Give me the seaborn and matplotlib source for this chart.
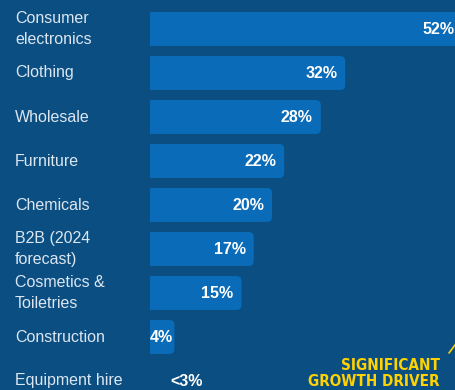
import matplotlib
matplotlib.use("Agg")
import matplotlib.pyplot as plt
import seaborn as sns
import pandas as pd
from matplotlib.patches import FancyBboxPatch
from matplotlib.lines import Line2D

categories = ["Consumer\nelectronics", "Clothing", "Wholesale", "Furniture", "Chemicals",
              "B2B (2024\nforecast)", "Cosmetics &\nToiletries", "Construction", "Equipment hire"]
values = [52, 32, 28, 22, 20, 17, 15, 4, 0]
value_labels = ["52%", "32%", "28%", "22%", "20%", "17%", "15%", "4%", "<3%"]
callout_lines = ["SIGNIFICANT", "GROWTH DRIVER"]

BG = "#0a4e82"
BAR = "#0a6cb8"
TXT = "#dce6f0"
YEL = "#ffd200"

sns.set_theme(style="white")
plt.rcParams["font.family"] = ["Liberation Sans", "DejaVu Sans"]

W, H = 456, 390
fig = plt.figure(figsize=(W / 100, H / 100), dpi=100, facecolor=BG)
left_px = 150
ax = fig.add_axes([left_px / W, 0, (W - left_px) / W, 1])
ax.set_facecolor(BG)

df = pd.DataFrame({"cat": categories, "val": values})
sns.barplot(data=df, x="val", y="cat", orient="h", color=BAR, width=0.77,
            saturation=1, ax=ax, order=categories)

px_per_unit = 6.1
xmax = (W - left_px) / px_per_unit
row_px = 44
top_center = 29
ax.set_xlim(0, xmax)
ax.set_ylim((H - top_center) / row_px, -top_center / row_px)

# replace rectangles with right-rounded bars
aspect = px_per_unit / row_px
for p in list(ax.patches):
    x0, y0 = p.get_x(), p.get_y()
    w, h = p.get_width(), p.get_height()
    p.remove()
    if w <= 0:
        continue
    r = 5 / px_per_unit
    fb = FancyBboxPatch((x0 - 2, y0), w + 2, h,
                        boxstyle=f"round,pad=0,rounding_size={r}",
                        mutation_aspect=aspect, facecolor=BAR, edgecolor="none",
                        clip_on=True)
    ax.add_patch(fb)

for s in ax.spines.values():
    s.set_visible(False)
ax.set_xticks([])
ax.set_yticks([])
ax.set_xlabel("")
ax.set_ylabel("")

# value labels
pad = 8 / px_per_unit
for i, (v, lab) in enumerate(zip(values, value_labels)):
    if v == 0:
        ax.text(20 / px_per_unit, i, lab, ha="left", va="center", color="white",
                fontsize=11.5, fontweight="bold")
    elif v * px_per_unit < 40:
        ax.text(0, i, lab, ha="left", va="center", color="white",
                fontsize=11.5, fontweight="bold")
    else:
        x = min(v - pad, xmax - 1 / px_per_unit)
        ax.text(x, i, lab, ha="right", va="center", color="white",
                fontsize=11.5, fontweight="bold", clip_on=False)

# category labels
for i, c in enumerate(categories):
    yc = 1 - (top_center + i * row_px) / H
    fig.text(15 / W, yc, c, ha="left", va="center", color=TXT, fontsize=11.5,
             linespacing=1.5)

# callout
for j, line in enumerate(callout_lines):
    fig.text(440 / W, 1 - (365 + 17 * j) / H, line, ha="right", va="center", color=YEL,
             fontsize=11, fontweight="bold", fontstretch="condensed",
             family=["DejaVu Sans"])
fig.add_artist(Line2D([449 / W, 458 / W], [1 - 353 / H, 1 - 341 / H],
                      transform=fig.transFigure, color=YEL, lw=1.2))

fig.savefig("out.png", dpi=100, facecolor=BG)
